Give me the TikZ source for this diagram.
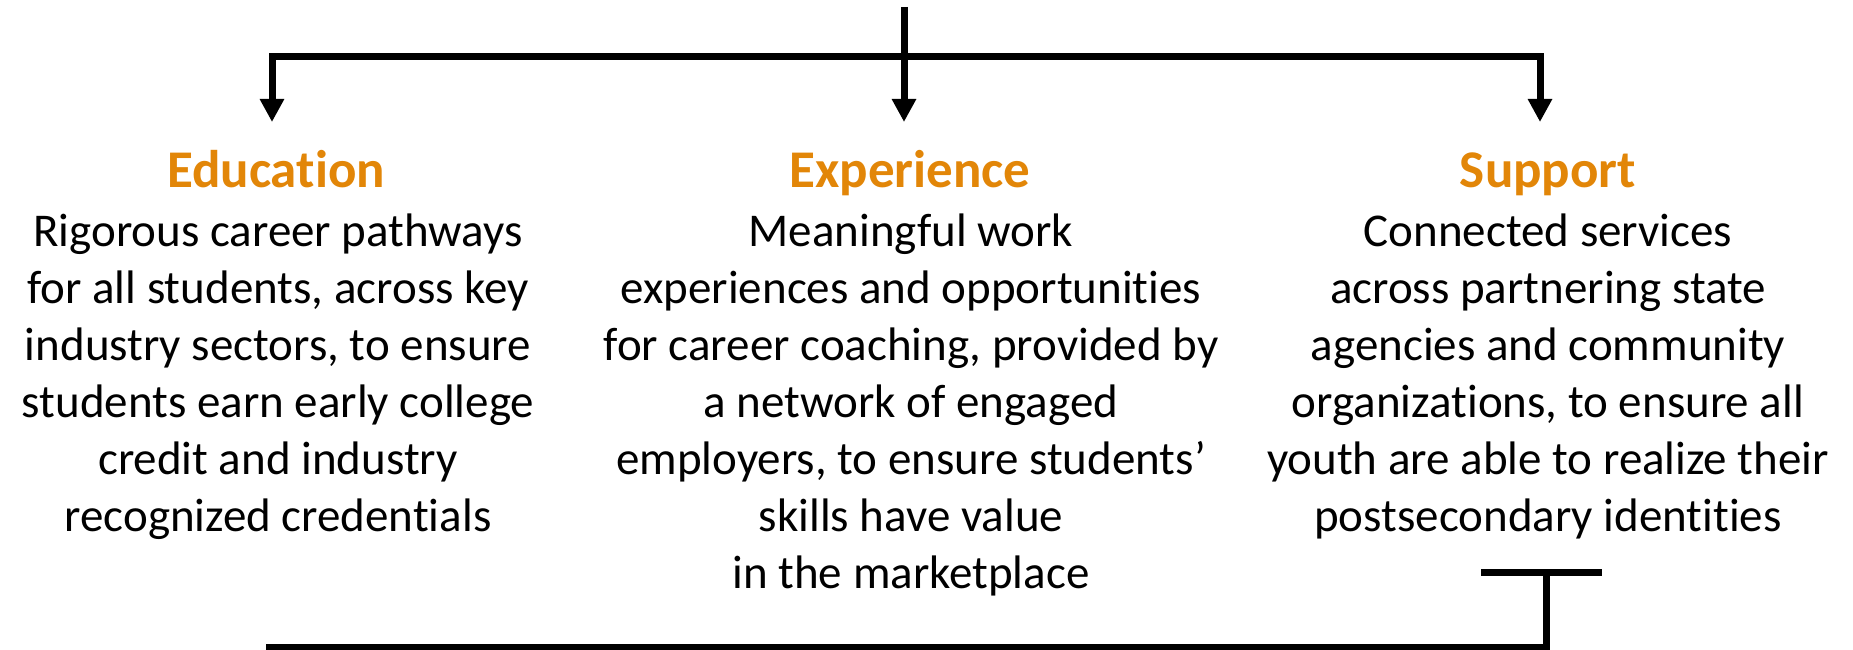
\documentclass[tikz,border=0pt]{standalone}
\usepackage{fontspec}
\setmainfont{Carlito}[Ligatures=CommonOff]
\usetikzlibrary{arrows.meta}
\definecolor{pillarorange}{RGB}{226,134,8}
\begin{document}
\begin{tikzpicture}[x=1pt,y=-1pt,
  conn/.style={line width=7pt, line join=miter},
  tipend/.style={-{Triangle[length=23pt,width=23pt]}},
  heading/.style={anchor=base, inner sep=0pt, text=pillarorange,
    font=\fontsize{53}{62}\selectfont\bfseries},
  body/.style={anchor=north, inner sep=0pt, align=center,
    font=\fontsize{47}{56.9}\selectfont}]
\useasboundingbox (0,0) rectangle (1853,650);

% column headings
\node[heading] (edu) at (276,187) {Education};
\node[heading] (exp) at (910,187) {Experience};
\node[heading] (sup) at (1548,187) {Support};

% column descriptions (a strut fixes the height of the first line)
\node[body] (edutext) at (278,206.7) {\strut Rigorous career pathways\\
  for all students, across key\\
  industry sectors, to ensure\\
  students earn early college\\
  credit and industry\\
  recognized credentials};
\node[body] (exptext) at (911,206.7) {\strut Meaningful work\\
  experiences and opportunities\\
  for career coaching, provided by\\
  a network of engaged\\
  employers, to ensure students’\\
  skills have value\\
  in the marketplace};
\node[body] (suptext) at (1548,206.7) {\strut Connected services\\
  across partnering state\\
  agencies and community\\
  organizations, to ensure all\\
  youth are able to realize their\\
  postsecondary identities};

% branching connector at the top
\coordinate (top) at (904,7);
\coordinate (cornerL) at (272,57);
\coordinate (cornerR) at (1540,57);
\coordinate (tipL) at (272,122);
\coordinate (tipC) at (904,122);
\coordinate (tipR) at (1540,122);
\draw[conn, {Triangle[length=23pt,width=23pt]}-{Triangle[length=23pt,width=23pt]}]
  (tipL) -- (cornerL) -- (cornerR) -- (tipR);
\draw[conn, tipend] (top) -- (tipC);

% return connector at the bottom
\coordinate (barL) at (1481,572);
\coordinate (barR) at (1602,572);
\coordinate (stem) at (1546.5,572);
\coordinate (corner) at (1546.5,647);
\coordinate (botL) at (266,647);
\draw[conn] (barL) -- (barR);
\draw[conn] (stem) -- (corner) -- (botL);
\end{tikzpicture}
\end{document}
